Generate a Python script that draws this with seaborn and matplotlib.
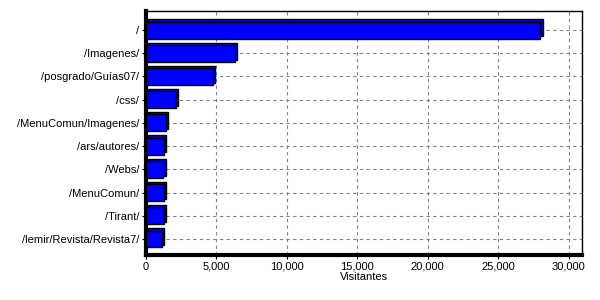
import matplotlib
matplotlib.use("Agg")
import matplotlib.pyplot as plt
import matplotlib.transforms as mtransforms
import seaborn as sns
import pandas as pd

categories = ["/", "/Imagenes/", "/posgrado/Guías07/", "/css/", "/MenuComun/Imagenes/",
              "/ars/autores/", "/Webs/", "/MenuComun/", "/Tirant/", "/lemir/Revista/Revista7/"]
visitantes = [28000, 6300, 4750, 2100, 1400, 1280, 1230, 1250, 1250, 1130]
x_ticks = [0, 5000, 10000, 15000, 20000, 25000, 30000]
x_label = "Visitantes"

sns.set_theme(style="white")
plt.rcParams['font.family'] = ['Liberation Sans', 'DejaVu Sans']
plt.rcParams['text.color'] = 'black'
plt.rcParams['xtick.color'] = 'black'
plt.rcParams['ytick.color'] = 'black'
plt.rcParams['axes.labelcolor'] = 'black'

df = pd.DataFrame({"cat": categories, "val": visitantes})

fig = plt.figure(figsize=(6, 3), dpi=100)
ax = fig.add_axes([146/600, 45/300, 436/600, 244/300])

# grid
for i in range(len(categories)):
    ax.axhline(i, color="#808080", lw=0.8, ls=(0, (3, 3)), zorder=0)
for t in x_ticks[1:]:
    ax.axvline(t, color="#808080", lw=0.8, ls=(0, (3, 3)), zorder=0)

# back face (3D depth)
sns.barplot(data=df, x="val", y="cat", orient="h", color="#0000FF", saturation=1,
            edgecolor="black", linewidth=1.0, width=0.73, ax=ax, zorder=2)
n_back = len(ax.patches)
off = mtransforms.ScaledTranslation(2.2/100, 2.2/100, fig.dpi_scale_trans)
for p in ax.patches[:n_back]:
    p.set_transform(ax.transData + off)
    p.set_facecolor("#0000E0")

# front face
sns.barplot(data=df, x="val", y="cat", orient="h", color="#0000FF", saturation=1,
            edgecolor="black", linewidth=1.0, width=0.73, ax=ax, zorder=3)

ax.set_xlim(0, 30950)
ax.set_ylim(9.69, -0.82)
ax.set_xticks(x_ticks)
ax.set_xticklabels([f"{t:,}" for t in x_ticks], fontsize=8)
ax.tick_params(axis="y", labelsize=8, length=3, width=0.8, color="black", pad=2, left=True)
ax.tick_params(axis="x", length=3, width=0.8, color="black", pad=2, bottom=True)
ax.set_xlabel(x_label, fontsize=8, labelpad=0)
ax.set_ylabel("")

for side in ["top", "right"]:
    ax.spines[side].set_visible(True)
    ax.spines[side].set_color("black")
    ax.spines[side].set_linewidth(1.0)
for side in ["left", "bottom"]:
    ax.spines[side].set_visible(True)
    ax.spines[side].set_color("black")
    ax.spines[side].set_linewidth(3.0)

fig.savefig("out.png", dpi=100)
